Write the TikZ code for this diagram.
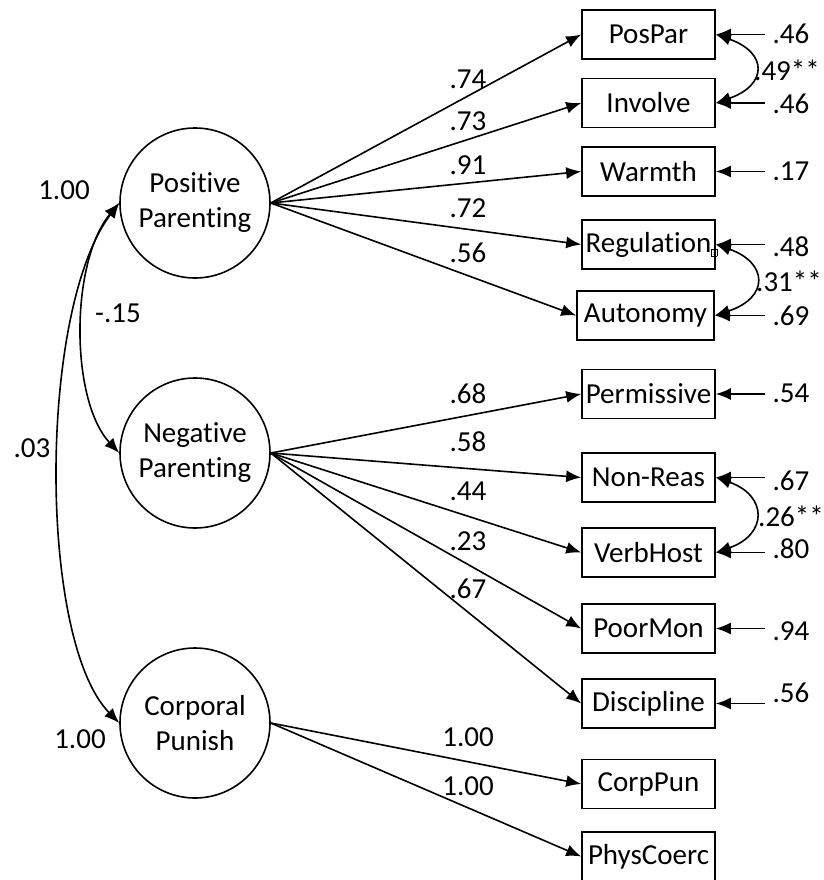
\documentclass[tikz,border=0pt]{standalone}
\usepackage{fontspec}
\setmainfont{Carlito}[Ligatures=NoCommon]
\usetikzlibrary{arrows.meta}
\begin{document}
\begin{tikzpicture}[x=1pt,y=-1pt,
  every node/.style={font=\fontsize{29}{35}\selectfont},
  lat/.style={draw,circle,minimum size=150pt,inner sep=0pt,align=center,line width=1.6pt},
  obs/.style={draw,rectangle,minimum width=133pt,minimum height=49pt,inner sep=0pt,line width=1.6pt},
  arr/.style={line width=1.6pt,-{Latex[length=15pt,width=12pt]}},
  dbl/.style={line width=1.6pt,{Latex[length=15pt,width=12pt]}-{Latex[length=15pt,width=12pt]}},
  lbl/.style={inner sep=0pt}
]
\useasboundingbox (0,0) rectangle (823,880);

% latent variables
\node[lat] (pp) at (195,203) {Positive\\Parenting};
\node[lat] (np) at (195,453) {Negative\\Parenting};
\node[lat] (cp) at (195,723) {Corporal\\Punish};

% indicators
\node[obs] (pospar)   at (648.5,34.5)  {PosPar};
\node[obs] (involve)  at (648.5,103)   {Involve};
\node[obs] (warmth)   at (648.5,171.5) {Warmth};
\node[obs] (regul)    at (648.5,244.5) {Regulation\rlap{\raisebox{-3pt}{\setlength\fboxsep{0.5pt}\setlength\fboxrule{0.6pt}\fbox{\fontsize{8}{8}\selectfont ?}}}};
\node[obs,minimum width=137pt] (auton) at (645.5,315.5) {Autonomy};
\node[obs] (permis)   at (648.5,394)   {Permissive};
\node[obs] (nonreas)  at (648.5,477.5) {Non-Reas};
\node[obs] (verbhost) at (648.5,552.5) {VerbHost};
\node[obs] (poormon)  at (648.5,628.5) {PoorMon};
\node[obs] (discip)   at (648.5,703.5) {Discipline};
\node[obs] (corppun)  at (648.5,784)   {CorpPun};
\node[obs] (physco)   at (648.5,856.5) {PhysCoerc};

% loadings
\draw[arr] (pp.east) -- (pospar.west);
\draw[arr] (pp.east) -- (involve.west);
\draw[arr] (pp.east) -- (warmth.west);
\draw[arr] (pp.east) -- (regul.west);
\draw[arr] (pp.east) -- (auton.west);
\draw[arr] (np.east) -- (permis.west);
\draw[arr] (np.east) -- (nonreas.west);
\draw[arr] (np.east) -- (verbhost.west);
\draw[arr] (np.east) -- (poormon.west);
\draw[arr] (np.east) -- (discip.west);
\draw[arr] (cp.east) -- (corppun.west);
\draw[arr] (cp.east) -- (physco.west);

\node[lbl] (l1)  at (468,79)  {.74};
\node[lbl] (l2)  at (468,121) {.73};
\node[lbl] (l3)  at (468,165) {.91};
\node[lbl] (l4)  at (468,208) {.72};
\node[lbl] (l5)  at (468,253) {.56};
\node[lbl] (l6)  at (468,394) {.68};
\node[lbl] (l7)  at (468,442) {.58};
\node[lbl] (l8)  at (468,491) {.44};
\node[lbl] (l9)  at (468,541) {.23};
\node[lbl] (l10) at (468,589) {.67};
\node[lbl] (l11) at (468,737) {1.00};
\node[lbl] (l12) at (468,786) {1.00};

% error terms
\coordinate (e1)  at (765,34.5);
\coordinate (e2)  at (765,103);
\coordinate (e3)  at (765,171.5);
\coordinate (e4)  at (765,244.5);
\coordinate (e5)  at (765,315.5);
\coordinate (e6)  at (765,394);
\coordinate (e7)  at (765,477.5);
\coordinate (e8)  at (765,552.5);
\coordinate (e9)  at (765,628.5);
\coordinate (e10) at (765,703.5);
\draw[arr] (e1) -- (pospar.east);
\draw[arr] (e2) -- (involve.east);
\draw[arr] (e3) -- (warmth.east);
\draw[arr] (e4) -- (regul.east);
\draw[arr] (e5) -- (auton.east);
\draw[arr] (e6) -- (permis.east);
\draw[arr] (e7) -- (nonreas.east);
\draw[arr] (e8) -- (verbhost.east);
\draw[arr] (e9) -- (poormon.east);
\draw[arr] (e10) -- (discip.east);

\node[lbl] (v1)  at (791,34)  {.46};
\node[lbl] (v2)  at (791,104) {.46};
\node[lbl] (v3)  at (791,171) {.17};
\node[lbl] (v4)  at (791,247) {.48};
\node[lbl] (v5)  at (791,316) {.69};
\node[lbl] (v6)  at (791,393) {.54};
\node[lbl] (v7)  at (791,481) {.67};
\node[lbl] (v8)  at (791,549) {.80};
\node[lbl] (v9)  at (791,631) {.94};
\node[lbl] (v10) at (791,693) {.56};

% error covariances
\draw[dbl] (pospar.east) .. controls +(52,18) and +(52,-18) .. (involve.east);
\draw[dbl] (regul.east) .. controls +(52,18) and +(55,-18) .. (auton.east);
\draw[dbl] (nonreas.east) .. controls +(52,18) and +(52,-18) .. (verbhost.east);
\node[lbl] (c1) at (787,70)  {.49**};
\node[lbl] (c2) at (789,281) {.31**};
\node[lbl] (c3) at (791,516) {.26**};

% latent covariances
\draw[dbl] (pp.west) .. controls (70,262) and (70,400) .. (np.west);
\draw[dbl] (pp.west) .. controls (38,310) and (38,640) .. (cp.west);
\node[lbl] (f1) at (64,190)  {1.00};
\node[lbl] (f2) at (118,313) {-.15};
\node[lbl] (f3) at (32,448)  {.03};
\node[lbl] (f4) at (80,739)  {1.00};
\end{tikzpicture}
\end{document}
